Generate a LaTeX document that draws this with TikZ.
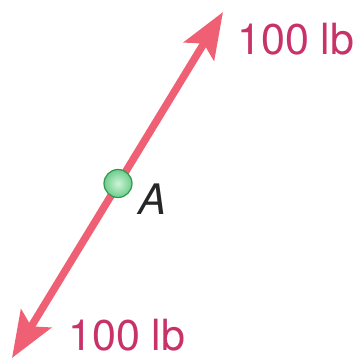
\documentclass[tikz,border=0pt]{standalone}
\usepackage{fontspec}
\setmainfont{TeX Gyre Heros}
\usetikzlibrary{arrows.meta}
\definecolor{forcecol}{RGB}{240,96,116}
\definecolor{labelcol}{RGB}{200,50,104}
\definecolor{ballcol}{RGB}{110,205,140}
\definecolor{ballhi}{RGB}{205,245,215}
\definecolor{balledge}{RGB}{50,150,80}
\tikzset{
  force/.style={draw=forcecol, line width=7.5pt,
    {Stealth[length=46pt,width=35pt,inset=9pt]}-{Stealth[length=46pt,width=35pt,inset=9pt]}},
  forcelabel/.style={text=labelcol, font=\fontsize{43}{48}\selectfont, anchor=base west, inner sep=0pt, text depth=0pt},
  pointlabel/.style={text=black!85, font=\fontsize{42}{46}\selectfont\itshape, anchor=base west, inner sep=0pt},
  pointball/.style={circle, minimum size=28pt, inner sep=0pt, inner color=ballhi, outer color=ballcol, draw=balledge, line width=1.2pt}
}
\begin{document}
\begin{tikzpicture}[x=1pt,y=1pt]
\useasboundingbox (0,0) rectangle (364,361);
\coordinate (lo) at (12,3);
\coordinate (hi) at (223,349);
\draw[force] (lo) -- (hi);
\node[pointball] (A) at (118,177.5) {};
\node[pointlabel] (Alab) at (138,146) {A};
\node[forcelabel] (Ftop) at (237,306) {100 lb};
\node[forcelabel] (Fbot) at (68,10) {100 lb};
\end{tikzpicture}
\end{document}
